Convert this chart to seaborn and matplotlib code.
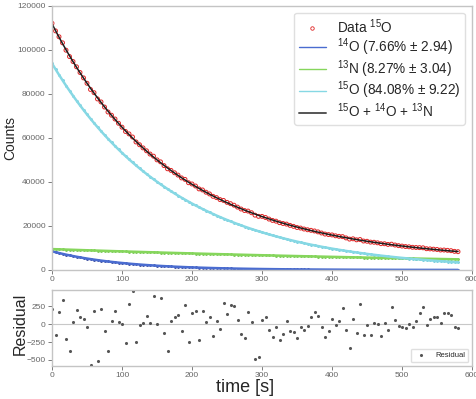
import numpy as np
import matplotlib
matplotlib.use("Agg")
import matplotlib.pyplot as plt
from matplotlib.lines import Line2D
import seaborn as sns

# Sampling times of the counting bins [s]
time_s = np.arange(0, 585, 5)

# Fitted component activities (counts per bin)
o15_counts = [
    93800, 91178, 88629, 86151, 83743, 81402, 79126, 76914, 74764, 72674,
    70642, 68667, 66747, 64881, 63067, 61304, 59590, 57924, 56305, 54731,
    53201, 51714, 50268, 48863, 47497, 46169, 44878, 43623, 42404, 41219,
    40067, 38947, 37858, 36800, 35771, 34771, 33799, 32854, 31936, 31043,
    30175, 29332, 28512, 27715, 26940, 26187, 25455, 24743, 24051, 23379,
    22725, 22090, 21472, 20872, 20288, 19721, 19170, 18634, 18113, 17607,
    17115, 16636, 16171, 15719, 15280, 14853, 14438, 14034, 13642, 13261,
    12890, 12530, 12180, 11839, 11508, 11186, 10873, 10569, 10274, 9987,
    9708, 9437, 9173, 8917, 8668, 8426, 8190, 7961, 7738, 7522,
    7312, 7108, 6909, 6716, 6528, 6346, 6168, 5996, 5828, 5665,
    5507, 5353, 5203, 5058, 4916, 4779, 4645, 4515, 4389, 4266,
    4147, 4031, 3918, 3809, 3702, 3599, 3498,
]
n13_counts = [
    9500, 9445, 9390, 9336, 9282, 9228, 9175, 9122, 9069, 9017,
    8965, 8913, 8861, 8810, 8759, 8708, 8658, 8608, 8558, 8509,
    8460, 8411, 8362, 8314, 8266, 8218, 8170, 8123, 8076, 8029,
    7983, 7937, 7891, 7845, 7800, 7755, 7710, 7665, 7621, 7577,
    7533, 7490, 7447, 7404, 7361, 7318, 7276, 7234, 7192, 7150,
    7109, 7068, 7027, 6986, 6946, 6906, 6866, 6826, 6787, 6748,
    6709, 6670, 6631, 6593, 6555, 6517, 6479, 6442, 6405, 6368,
    6331, 6294, 6258, 6222, 6186, 6150, 6115, 6080, 6045, 6010,
    5975, 5941, 5907, 5873, 5839, 5805, 5771, 5738, 5705, 5672,
    5639, 5606, 5574, 5542, 5510, 5478, 5446, 5415, 5384, 5353,
    5322, 5291, 5260, 5230, 5200, 5170, 5140, 5110, 5080, 5051,
    5022, 4993, 4964, 4935, 4906, 4878, 4850,
]
o14_counts = [
    8500, 8093, 7705, 7336, 6985, 6650, 6331, 6028, 5739, 5464,
    5202, 4953, 4716, 4490, 4275, 4070, 3875, 3689, 3512, 3344,
    3184, 3031, 2886, 2748, 2616, 2491, 2372, 2258, 2150, 2047,
    1949, 1856, 1767, 1682, 1601, 1524, 1451, 1382, 1316, 1253,
    1193, 1136, 1082, 1030, 981, 934, 889, 846, 806, 767,
    730, 695, 662, 630, 600, 571, 544, 518, 493, 469,
    447, 426, 406, 387, 369, 351, 334, 318, 303, 288,
    274, 261, 248, 236, 225, 214, 204, 194, 185, 176,
    168, 160, 152, 145, 138, 131, 125, 119, 113, 108,
    103, 98, 93, 89, 85, 81, 77, 73, 70, 67,
    64, 61, 58, 55, 52, 50, 48, 46, 44, 42,
    40, 38, 36, 34, 33, 31, 30,
]

# Measured minus fitted counts
residual = [
    215, -150, 175, 335, -210, -370, 28, 195, 105, 69,
    -33, -570, 190, -520, 215, -93, -380, 46, 185, 37,
    9, -264, 278, 470, -246, -5, 23, 115, 23, 389,
    4, 366, -117, -371, 46, 97, 129, -89, 268, -246,
    153, 181, -218, 190, 32, 97, -163, 46, -70, 292,
    143, 264, 259, 60, -135, -195, 175, 28, -482, -464,
    60, 106, -79, -186, -33, -228, -135, 46, -89, -103,
    -195, -42, -79, -24, 97, 175, 115, -42, -181, -89,
    74, -10, 50, 222, -79, -334, 74, -117, 282, -149,
    -10, -149, 23, 0, -172, 14, -79, 245, 60, -24,
    -33, -56, 4, -33, 50, 161, 245, -10, 69, 97,
    106, 14, 153, 153, 129, -33, -60,
]

component_labels = [
    r"$^{14}$O (7.66% $\pm$ 2.94)",
    r"$^{13}$N (8.27% $\pm$ 3.04)",
    r"$^{15}$O (84.08% $\pm$ 9.22)",
]
total_label = r"$^{15}$O + $^{14}$O + $^{13}$N"
data_label = r"Data $^{15}$O"

o15 = np.array(o15_counts, dtype=float)
n13 = np.array(n13_counts, dtype=float)
o14 = np.array(o14_counts, dtype=float)
res = np.array(residual, dtype=float)
fit_total = o15 + n13 + o14
measured = fit_total + res

sns.set_theme(style="ticks")
plt.rcParams["font.family"] = ["Liberation Sans", "DejaVu Sans"]
plt.rcParams["mathtext.fontset"] = "custom"
plt.rcParams["mathtext.rm"] = "Liberation Sans"
plt.rcParams["mathtext.it"] = "Liberation Sans:italic"

W, H = 476, 399
fig = plt.figure(figsize=(W / 100, H / 100), dpi=100)
ax = fig.add_axes([52 / W, 1 - 270 / H, 420 / W, 264.3 / H])
axr = fig.add_axes([52 / W, 1 - 366 / H, 420 / W, 76 / H])

spine_col = "#c4c4c4"
tick_col = "#666666"
for a in (ax, axr):
    for s in a.spines.values():
        s.set_color(spine_col)
        s.set_linewidth(1.0)
    a.tick_params(axis="both", labelsize=6, colors=tick_col, length=3,
                  width=0.6, pad=1.5)

# Main panel: components, data and total fit
comp_styles = [
    (o14, "#4a6cd0", "#2c3f96"),
    (n13, "#86d65c", "#70c44c"),
    (o15, "#86d8e4", "#6ccadb"),
]
handles = []
for (vals, line_col, dot_col), lab in zip(comp_styles, component_labels):
    sns.lineplot(x=time_s, y=vals, ax=ax, color=line_col, linewidth=1.8,
                 legend=False)
    sns.scatterplot(x=time_s, y=vals, ax=ax, color=dot_col, s=4,
                    linewidth=0, legend=False)
    handles.append(Line2D([], [], color=line_col, lw=1.0, label=lab))

sns.scatterplot(x=time_s, y=measured, ax=ax, marker="o", s=8,
                facecolor="none", edgecolor="#e02424", linewidth=0.7,
                legend=False)
sns.lineplot(x=time_s, y=fit_total, ax=ax, color="#1e1e1e", linewidth=1.1,
             legend=False)

data_handle = Line2D([], [], marker="o", ls="none", ms=2.5, mfc="none",
                     mec="#e02424", mew=0.6, label=data_label)
total_handle = Line2D([], [], color="#555555", lw=1.4, label=total_label)
ax.legend(handles=[data_handle] + handles + [total_handle], loc="upper right",
          fontsize=9.8, frameon=True, framealpha=0.8, edgecolor="#d8d8d8",
          handlelength=2.0, borderpad=0.35, labelspacing=0.02,
          borderaxespad=0.5)

ax.set_xlim(0, 600)
ax.set_ylim(0, 120000)
ax.set_xticks(range(0, 601, 100))
ax.set_yticks(range(0, 120001, 20000))
ax.set_ylabel("Counts", fontsize=10)
ax.yaxis.set_label_coords(-0.082, 0.5)
ax.set_xlabel("")

# Residual panel
axr.axhline(0, color="#c8c8c8", lw=0.8, zorder=0)
sns.scatterplot(x=time_s, y=res, ax=axr, color="#555555", s=5, linewidth=0,
                label="Residual")
axr.set_xlim(0, 600)
axr.set_ylim(-585, 478)
axr.set_xticks(range(0, 601, 100))
axr.set_yticks([-500, -250, 0, 250])
axr.set_ylabel("Residual", fontsize=11.5)
axr.yaxis.set_label_coords(-0.058, 0.56)
axr.set_xlabel("time [s]", fontsize=13)
axr.xaxis.set_label_coords(0.46, -0.17)
axr.legend(loc="lower right", fontsize=5.5, frameon=True, framealpha=0.8,
           edgecolor="#d8d8d8", markerscale=1.0, handlelength=2.0)

fig.savefig("out.png", dpi=100)
